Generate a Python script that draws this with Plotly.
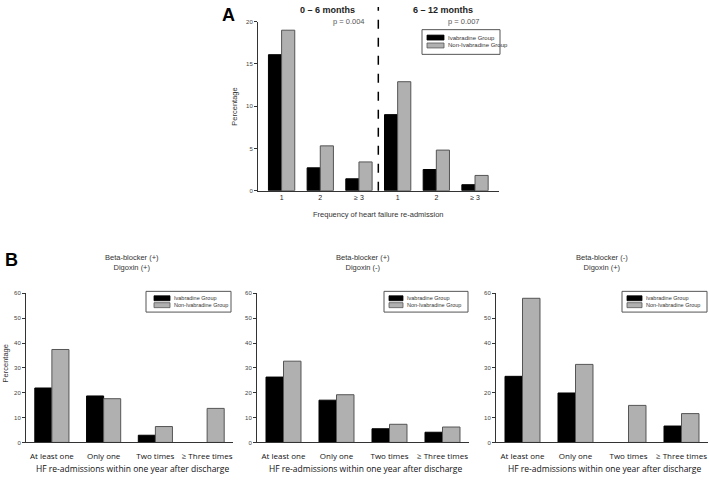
"""
Heart failure re-admission bars, panel A (by period) and panel B (by drug combo)
"""

import plotly.graph_objects as go

W, H = 709, 480

# ---- data: panel A
freq_labels = ["1", "2", "≥ 3", "1", "2", "≥ 3"]
period_labels = ["0 – 6 months", "6 – 12 months"]
p_values = ["p = 0.004", "p = 0.007"]
a_ivabradine = [16.1, 2.7, 1.4, 9.0, 2.5, 0.7]
a_non_ivabradine = [19.0, 5.3, 3.4, 12.9, 4.8, 1.8]

# ---- data: panel B
b_categories = ["At least one", "Only one", "Two times", "≥ Three times"]
b_titles = ["Beta-blocker (+)<br>Digoxin (+)",
            "Beta-blocker (+)<br>Digoxin (-)",
            "Beta-blocker (-)<br>Digoxin (+)"]
b_ivabradine = [[21.9, 18.7, 2.9, None],
                [26.3, 17.0, 5.5, 4.1],
                [26.6, 19.9, None, 6.6]]
b_non_ivabradine = [[37.4, 17.6, 6.4, 13.7],
                    [32.7, 19.2, 7.3, 6.2],
                    [58.0, 31.4, 14.9, 11.6]]

group_names = ["Ivabradine Group", "Non-Ivabradine Group"]

BLACK = "#000000"
GRAY = "#b0b0b0"
EDGE = "#555555"
AXIS = "#333333"
SANS = "Liberation Sans, Arial, sans-serif"
UI = "Open Sans, Noto Sans, sans-serif"


def px_x(x):
    return x / W


def px_y(y):
    return 1 - y / H


fig = go.Figure()

# ---- panel A bars
idx = list(range(len(freq_labels)))
for name, vals, color, off in [(group_names[0], a_ivabradine, BLACK, -0.34),
                               (group_names[1], a_non_ivabradine, GRAY, 0.0)]:
    fig.add_trace(go.Bar(
        x=idx, y=vals, name=name, xaxis="x", yaxis="y",
        width=0.34, offset=off, showlegend=False,
        marker=dict(color=color, line=dict(color=EDGE if color == GRAY else BLACK, width=1)),
    ))

# ---- panel B bars
for i in range(3):
    ax = str(i + 2)
    for name, vals, color, off in [(group_names[0], b_ivabradine[i], BLACK, -0.33),
                                   (group_names[1], b_non_ivabradine[i], GRAY, 0.0)]:
        fig.add_trace(go.Bar(
            x=b_categories, y=vals, name=name, xaxis="x" + ax, yaxis="y" + ax,
            width=0.33, offset=off, showlegend=False,
            marker=dict(color=color, line=dict(color=EDGE if color == GRAY else BLACK, width=1)),
        ))

yaxis_common = dict(showline=True, linecolor=AXIS, linewidth=1, ticks="outside",
                    ticklen=3, tickcolor=AXIS, showgrid=False, zeroline=False,
                    tickfont=dict(family=SANS, size=6, color="#444444"))
xaxis_common = dict(showline=True, linecolor=AXIS, linewidth=1, ticks="",
                    showgrid=False, zeroline=False)

layout = dict(
    width=W, height=H,
    margin=dict(l=0, r=0, t=0, b=0),
    paper_bgcolor="white", plot_bgcolor="white",
    barmode="group", showlegend=False,
    xaxis=dict(xaxis_common, domain=[px_x(258), px_x(499)], range=[-0.61, 5.62],
               tickvals=idx, ticktext=freq_labels, anchor="y",
               tickfont=dict(family=SANS, size=7, color="#222222")),
    yaxis=dict(yaxis_common, domain=[px_y(190), px_y(19)], range=[0, 20],
               tickvals=[0, 5, 10, 15, 20], anchor="x"),
)

b_domains = [(26, 233), (257, 469), (496, 708)]
for i, (x0, x1) in enumerate(b_domains):
    ax = str(i + 2)
    layout["xaxis" + ax] = dict(xaxis_common, domain=[px_x(x0), px_x(x1)],
                                range=[-0.5, 3.5], anchor="y" + ax, type="category",
                                ticklabelstandoff=6,
                                tickfont=dict(family=UI, size=8, color="#111111"))
    layout["yaxis" + ax] = dict(yaxis_common, domain=[px_y(445), px_y(294)],
                                range=[0, 60], tickvals=[0, 10, 20, 30, 40, 50, 60],
                                anchor="x" + ax)

fig.update_layout(**layout)

shapes = []
annotations = []


def text(x, y, s, size, family=SANS, color="#333333", bold=False, angle=0, xanchor="center"):
    annotations.append(dict(
        x=px_x(x), y=px_y(y), xref="paper", yref="paper", text=f"<b>{s}</b>" if bold else s,
        showarrow=False, xanchor=xanchor, yanchor="middle", textangle=angle,
        font=dict(family=family, size=size, color=color)))


def legend_box(x0, y0, x1, y1, sw_x0, sw_x1, row_y, size):
    shapes.append(dict(type="rect", xref="paper", yref="paper",
                       x0=px_x(x0), x1=px_x(x1), y0=px_y(y1), y1=px_y(y0),
                       line=dict(color="#555555", width=1), fillcolor="white"))
    for name, color, ry in zip(group_names, [BLACK, GRAY], row_y):
        shapes.append(dict(type="rect", xref="paper", yref="paper",
                           x0=px_x(sw_x0), x1=px_x(sw_x1), y0=px_y(ry + 2.5), y1=px_y(ry - 2.5),
                           line=dict(color=EDGE if color == GRAY else BLACK, width=0.8),
                           fillcolor=color))
        text(sw_x1 + 2, ry, name, size, color="#333333", xanchor="left")


# ---- panel A decorations
shapes.append(dict(type="line", xref="x", yref="paper", x0=2.5, x1=2.5,
                   y0=px_y(190), y1=px_y(4), line=dict(color=BLACK, width=1.5, dash="dash")))
text(228, 12, "A", 18, bold=True, color=BLACK)
text(327.7, 7, period_labels[0], 9, bold=True, color="#222222")
text(443, 7, period_labels[1], 9, bold=True, color="#222222")
text(349, 19, p_values[0], 7.5, color="#555555")
text(464, 19, p_values[1], 7.5, color="#555555")
text(235, 105, "Percentage", 7.5, angle=-90)
text(378, 214, "Frequency of heart failure re-admission", 7.5)
legend_box(422, 27, 500, 52, 427, 444, [35, 43], 6)

# ---- panel B decorations
text(11, 260, "B", 18, bold=True, color=BLACK)
text(5, 365, "Percentage", 7.5, angle=-90)
title_x = [132, 363, 602]
xtitle_x = [132, 365, 604]
legend_pos = [(146, 231, 154, 170), (384, 468, 389, 403), (622, 707, 627, 642)]
for i in range(3):
    text(title_x[i], 263, b_titles[i], 7.5)
    text(xtitle_x[i], 471, "HF re-admissions within one year after discharge", 8.5,
         family=UI, color="#111111")
    bx0, bx1, sx0, sx1 = legend_pos[i]
    legend_box(bx0, 292, bx1, 313, sx0, sx1, [299, 306], 5.5)

fig.update_layout(shapes=shapes, annotations=annotations)

# drop the page's default body margin so the figure sits at the window's corner
fig.write_html("out.html", config={"displayModeBar": False},
               post_script="document.body.style.margin='0';")
